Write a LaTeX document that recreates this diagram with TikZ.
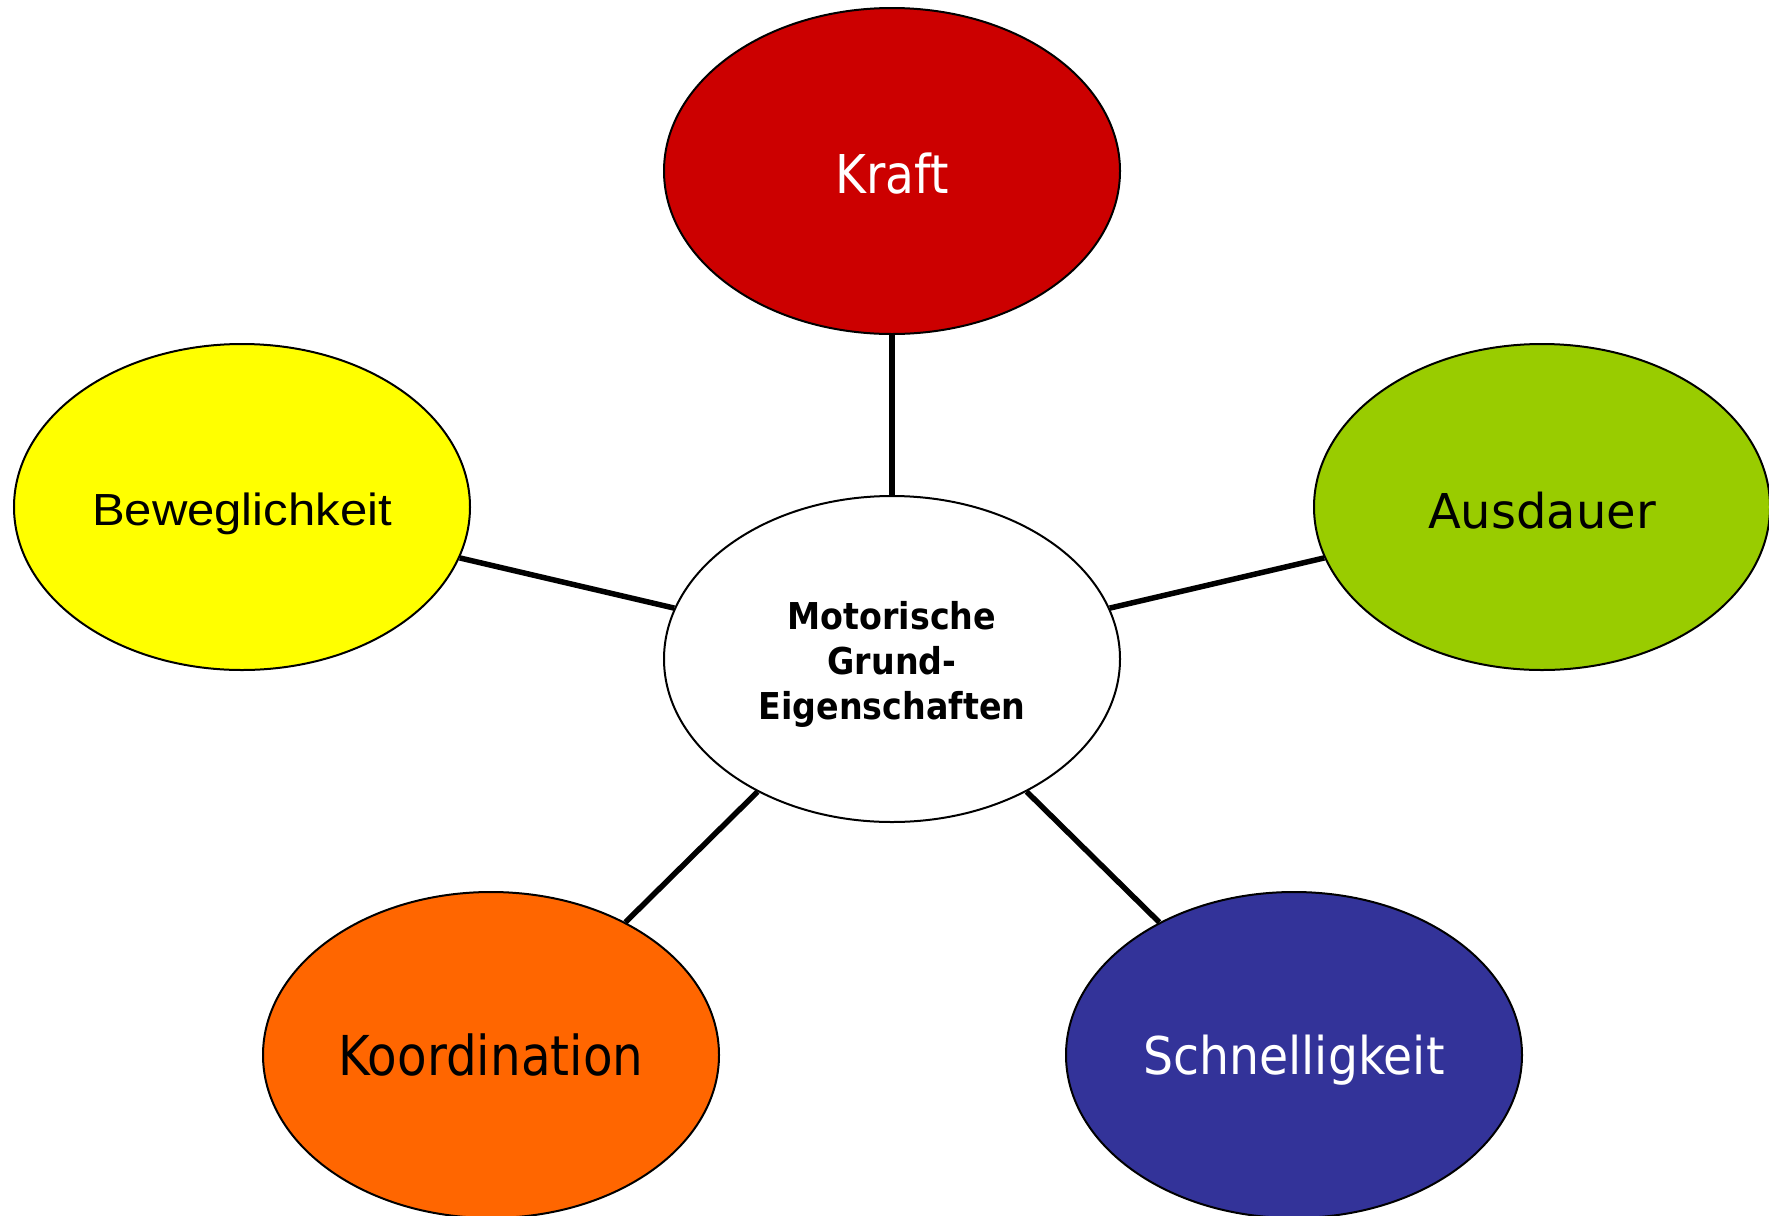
\documentclass[tikz,border=0pt]{standalone}
\usepackage{fontspec}
\setmainfont{DejaVu Sans}
\newfontfamily\narrowfont[FakeStretch=0.88]{DejaVu Sans}
\newfontfamily\midfont[FakeStretch=0.91]{DejaVu Sans}
\newfontfamily\widefont{DejaVu Sans}
\newfontfamily\arialfont[FakeStretch=1.09]{Liberation Sans}
\newfontfamily\centerfont[FakeStretch=0.9]{DejaVu Sans}
\usetikzlibrary{shapes.geometric}
\definecolor{kraftred}{HTML}{CC0000}
\definecolor{bewyellow}{HTML}{FFFF00}
\definecolor{ausgreen}{HTML}{99CC00}
\definecolor{kooorange}{HTML}{FF6600}
\definecolor{schblue}{HTML}{333399}
\begin{document}
\begin{tikzpicture}[x=1bp,y=-1bp,
  blob/.style={ellipse, draw=black, line width=2bp, minimum width=456bp, minimum height=326bp, inner sep=0pt},
  link/.style={line width=5.5bp, draw=black}]
\useasboundingbox (0,0) rectangle (1769,1215);
\node[blob, fill=white, align=center, font=\centerfont\bfseries\fontsize{37bp}{45bp}\selectfont] (core) at (892,659) {\rule{0pt}{39bp}Motorische\\Grund-\\Eigenschaften};
\node[blob, fill=kraftred, text=white, font=\narrowfont\fontsize{53.5bp}{60bp}\selectfont, text height=45bp, text depth=0pt] (kraft) at (892,171) {Kraft};
\node[blob, fill=bewyellow, text=black, font=\arialfont\fontsize{45bp}{50bp}\selectfont, text height=36bp, text depth=0pt] (bew) at (242,507) {Beweglichkeit};
\node[blob, fill=ausgreen, text=black, font=\widefont\fontsize{48bp}{54bp}\selectfont, text height=43bp, text depth=0pt] (aus) at (1542,507) {Ausdauer};
\node[blob, fill=kooorange, text=black, font=\narrowfont\fontsize{55bp}{60bp}\selectfont, text height=40bp, text depth=0pt] (koo) at (491,1055) {Koordination};
\node[blob, fill=schblue, text=white, font=\midfont\fontsize{52bp}{60bp}\selectfont, text height=38bp, text depth=0pt] (sch) at (1294,1055) {Schnelligkeit};
\draw[link] (core) -- (kraft);
\draw[link] (core) -- (bew);
\draw[link] (core) -- (aus);
\draw[link] (core) -- (koo);
\draw[link] (core) -- (sch);
\end{tikzpicture}
\end{document}
